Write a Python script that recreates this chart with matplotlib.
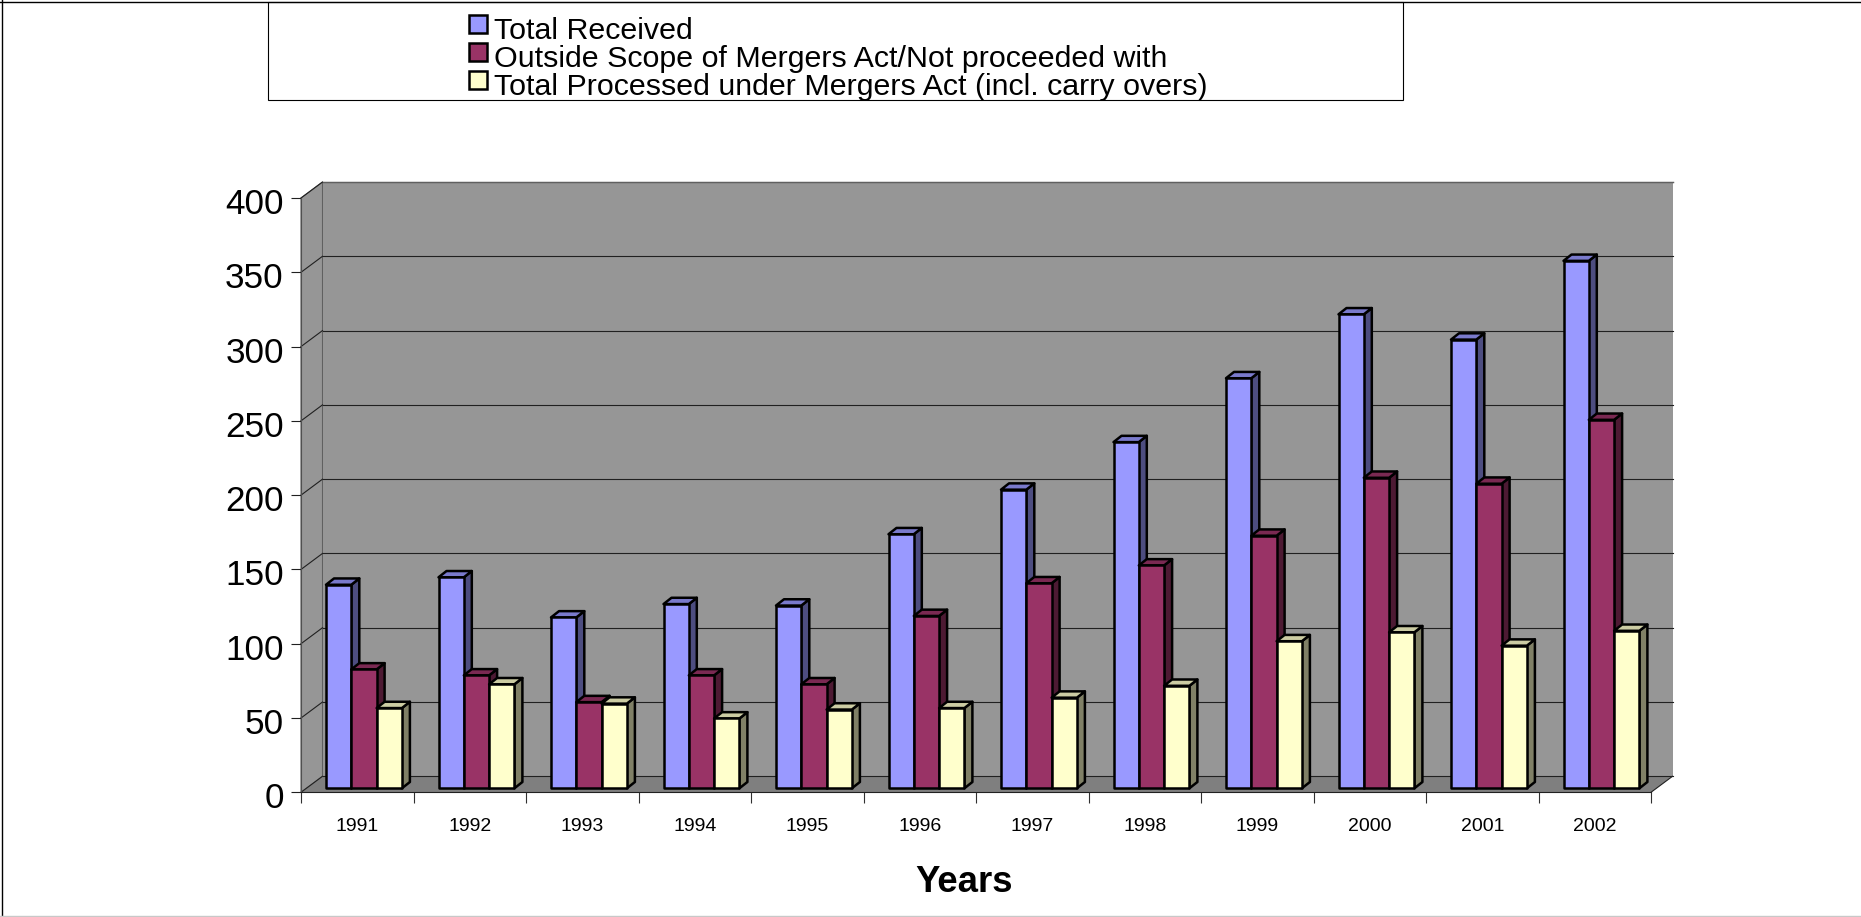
"""Mergers Act notifications per year, redrawn as a fake-3D clustered bar chart."""

import matplotlib

matplotlib.use("Agg")
import matplotlib.pyplot as plt
from matplotlib.patches import Polygon, Rectangle
from matplotlib.transforms import ScaledTranslation

plt.rcParams["font.family"] = ["Liberation Sans", "DejaVu Sans"]

# === Data ===
years = ["1991", "1992", "1993", "1994", "1995", "1996", "1997", "1998", "1999", "2000", "2001", "2002"]
total_received = [137, 142, 115, 124, 123, 171, 201, 233, 276, 319, 302, 355]
outside_scope = [80, 76, 58, 76, 70, 116, 138, 150, 170, 209, 205, 248]
total_processed = [54, 70, 57, 47, 53, 54, 61, 69, 99, 105, 96, 106]
series_names = [
    "Total Received",
    "Outside Scope of Mergers Act/Not proceeded with",
    "Total Processed under Mergers Act (incl. carry overs)",
]
y_ticks = [0, 50, 100, 150, 200, 250, 300, 350, 400]

# === Colours: front, side, top ===
colors = [
    ("#9999FF", "#4D4D80", "#7A7ACC"),
    ("#993366", "#4D1A33", "#7A2952"),
    ("#FFFFCC", "#808066", "#CCCCA3"),
]
WALL = "#969696"
FLOOR = "#7F7F7F"

# === Layout (pixels in the 1861x917 picture) ===
W, H = 1861, 917
PLOT_L, PLOT_R = 301, 1651
PLOT_T, PLOT_B = 198, 792.3
CAT_PX = (PLOT_R - PLOT_L) / len(years)
VAL_PX = (PLOT_B - PLOT_T) / 400

# depth of the box and of the bars, converted to data units
box_dx, box_dy = 21.5 / CAT_PX, 16 / VAL_PX
bar_dx, bar_dy = 8 / CAT_PX, 6.3 / VAL_PX
base_y = 4 / VAL_PX
group_x0 = 25 / CAT_PX
bar_w = 25.3 / CAT_PX

fig = plt.figure(figsize=(W / 100, H / 100), dpi=100, facecolor="white")

# overlay in pixel coordinates for page frame and legend box
page = fig.add_axes([0, 0, 1, 1], zorder=0)
page.set_xlim(0, W)
page.set_ylim(H, 0)
page.axis("off")
page.plot([1.5, 1.5], [0, H], color="black", lw=1)
page.plot([0, W], [1.5, 1.5], color="black", lw=1)
page.plot([0, W], [916, 916], color="#C8C8C8", lw=1)
page.add_patch(Rectangle((268, 2), 1135, 98, fc="white", ec="black", lw=0.8))

swatch_y = [14.5, 42.5, 70.5]
text_y = [39.2, 67, 95]
for name, col, sy, ty in zip(series_names, colors, swatch_y, text_y):
    page.add_patch(Rectangle((468.5, sy), 18.5, 18.5, fc=col[0], ec="black", lw=1.8))
    page.text(494.5, ty, name, fontsize=21.9, va="baseline", ha="left", color="black")

ax = fig.add_axes(
    [PLOT_L / W, 1 - PLOT_B / H, (PLOT_R - PLOT_L) / W, (PLOT_B - PLOT_T) / H],
    zorder=1,
)
ax.set_xlim(0, len(years))
ax.set_ylim(0, 400)
ax.patch.set_visible(False)

n = len(years)


def add_poly(points, **kw):
    ax.add_patch(Polygon(points, closed=True, clip_on=False, **kw))


# === Box ===
add_poly([(0, 0), (box_dx, box_dy), (box_dx, 400 + box_dy), (0, 400)], fc=WALL, ec="#606060", lw=0.8, zorder=1)
add_poly(
    [(box_dx, box_dy), (n + box_dx, box_dy), (n + box_dx, 400 + box_dy), (box_dx, 400 + box_dy)],
    fc=WALL, ec="none", zorder=1,
)
add_poly([(0, 0), (n, 0), (n + box_dx, box_dy), (box_dx, box_dy)], fc=FLOOR, ec="none", zorder=1)
ax.plot([box_dx, n + box_dx], [400 + box_dy] * 2, color="#606060", lw=1, clip_on=False, zorder=2)

for tick in y_ticks:
    grid_color = "#606060" if tick == 400 else "#202020"
    ax.plot([box_dx, n + box_dx], [tick + box_dy] * 2, color=grid_color, lw=0.8, clip_on=False, zorder=2)
    ax.plot([0, box_dx], [tick, tick + box_dy], color="#202020", lw=0.8, clip_on=False, zorder=2)
ax.plot([n, n + box_dx], [0, box_dy], color="#202020", lw=0.8, clip_on=False, zorder=2)

# === Bars, painted left to right so nearer faces cover the side of the previous bar ===
all_series = [total_received, outside_scope, total_processed]
z = 3
for i in range(n):
    for j, values in enumerate(all_series):
        x0 = i + group_x0 + j * bar_w
        x1 = x0 + bar_w
        y0 = base_y
        y1 = base_y + values[i]
        front, side, top = colors[j]
        edge = dict(ec="black", lw=1.8, joinstyle="round", zorder=z)
        add_poly([(x1, y0), (x1 + bar_dx, y0 + bar_dy), (x1 + bar_dx, y1 + bar_dy), (x1, y1)], fc=side, **edge)
        add_poly([(x0, y1), (x1, y1), (x1 + bar_dx, y1 + bar_dy), (x0 + bar_dx, y1 + bar_dy)], fc=top, **edge)
        add_poly([(x0, y0), (x1, y0), (x1, y1), (x0, y1)], fc=front, **edge)
        z += 1

# === Axes ===
for side_name in ["top", "right"]:
    ax.spines[side_name].set_visible(False)
ax.spines["left"].set_color("#505050")
ax.spines["left"].set_linewidth(0.8)
ax.spines["bottom"].set_color("#202020")
ax.spines["bottom"].set_linewidth(0.8)
ax.spines["left"].set_zorder(100)
ax.spines["bottom"].set_zorder(100)

ax.set_yticks(y_ticks)
ax.tick_params(axis="y", length=7.4, width=0.8, color="#202020", pad=5, labelsize=25.3)
# the reference sets the value labels a little below their ticks
nudge = ScaledTranslation(0, -3 / 100, fig.dpi_scale_trans)
for label in ax.get_yticklabels():
    label.set_transform(label.get_transform() + nudge)
ax.set_xticks(range(n + 1))
ax.set_xticklabels([])
ax.tick_params(axis="x", which="major", length=8, width=0.8, color="#303030")
ax.set_xticks([i + 0.5 for i in range(n)], labels=years, minor=True)
ax.tick_params(axis="x", which="minor", length=0, pad=18.5, labelsize=14)

ax.set_xlabel("Years", fontsize=26.3, fontweight="bold")
ax.xaxis.set_label_coords((964 - PLOT_L) / (PLOT_R - PLOT_L), -(864.5 - PLOT_B) / (PLOT_B - PLOT_T))

fig.savefig("out.png", dpi=100)
